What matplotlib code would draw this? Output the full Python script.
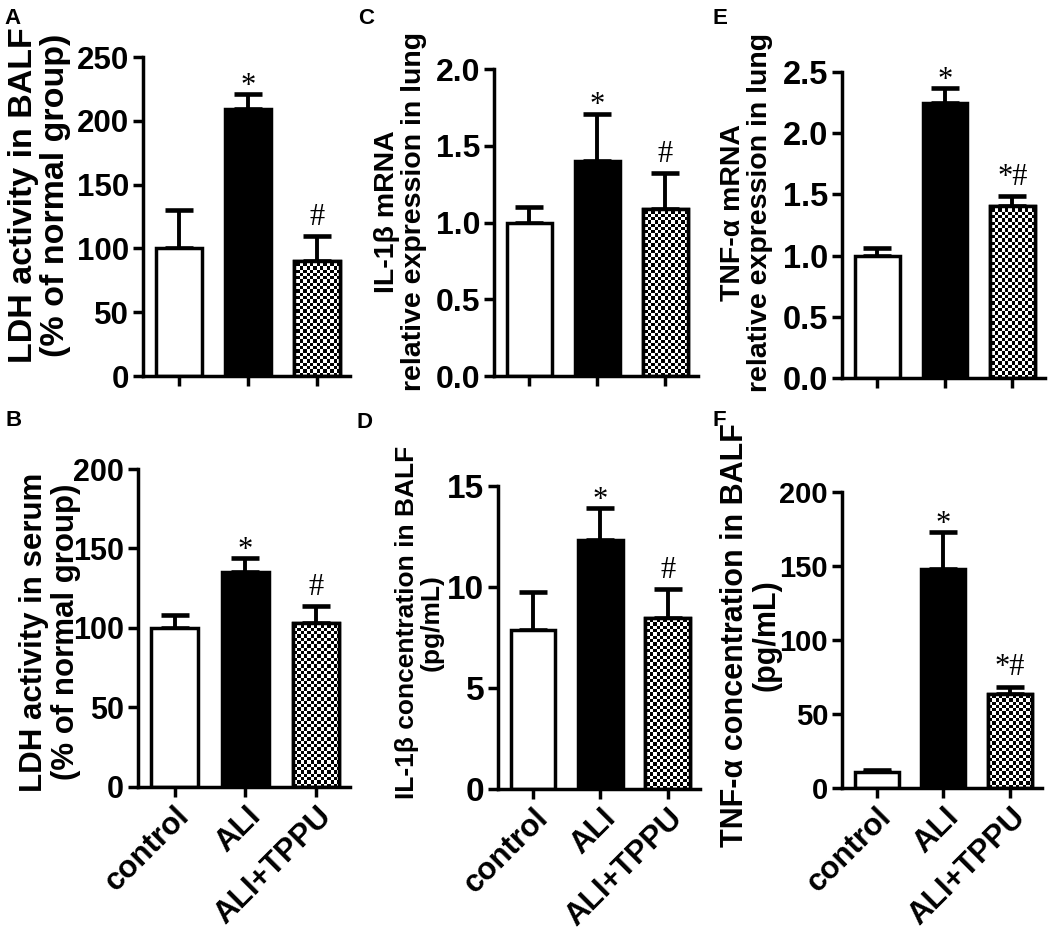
import numpy as np
import matplotlib
matplotlib.use("Agg")
import matplotlib.pyplot as plt

plt.rcParams['font.family'] = ['Liberation Sans', 'DejaVu Sans']
plt.rcParams['font.weight'] = 'bold'

groups = ["control", "ALI", "ALI+TPPU"]

# panel values (mean and upper error)
ldh_balf = [100, 209, 90]
ldh_balf_err = [30, 12, 20]
ldh_serum = [100, 135, 103]
ldh_serum_err = [8, 9, 11]
il1b_mrna = [1.0, 1.40, 1.09]
il1b_mrna_err = [0.10, 0.31, 0.23]
il1b_balf = [7.85, 12.35, 8.45]
il1b_balf_err = [1.9, 1.55, 1.45]
tnfa_mrna = [1.0, 2.245, 1.405]
tnfa_mrna_err = [0.06, 0.125, 0.08]
tnfa_balf = [10.5, 148, 63.5]
tnfa_balf_err = [2.0, 25, 5]

marks_ab = ["", "*", "#"]
marks_ef = ["", "*", "*#"]

panels = [
    # letter, values, errs, marks, ylim, ticks, fmt, ylabel, label size, tick size, rect, label xy, show xlabels
    ("A", ldh_balf, ldh_balf_err, marks_ab, 250, np.arange(0, 251, 50), "{:.0f}",
     "LDH activity in BALF\n(% of normal group)", 24.5, 22.5, [0.1362, 0.5991, 0.197, 0.3401], (-0.50, 0.567), False),
    ("B", ldh_serum, ldh_serum_err, marks_ab, 200, np.arange(0, 201, 50), "{:.0f}",
     "LDH activity in serum\n(% of normal group)", 22.5, 22, [0.1314, 0.1610, 0.2019, 0.3390], (-0.415, 0.487), True),
    ("C", il1b_mrna, il1b_mrna_err, marks_ab, 2.0, np.arange(0, 2.01, 0.5), "{:.1f}",
     "IL-1β mRNA\nrelative expression in lung", 20.5, 23, [0.4705, 0.5991, 0.1943, 0.3273], (-0.46, 0.535), False),
    ("D", il1b_balf, il1b_balf_err, marks_ab, 15, np.arange(0, 16, 5), "{:.0f}",
     "IL-1β concentration in BALF\n(pg/mL)", 19, 24, [0.4743, 0.1588, 0.1924, 0.3230], (-0.39, 0.55), True),
    ("E", tnfa_mrna, tnfa_mrna_err, marks_ef, 2.5, np.arange(0, 2.51, 0.5), "{:.1f}",
     "TNF-α mRNA\nrelative expression in lung", 20.5, 23.5, [0.8019, 0.5970, 0.1933, 0.3262], (-0.47, 0.54), False),
    ("F", tnfa_balf, tnfa_balf_err, marks_ef, 200, np.arange(0, 201, 50), "{:.0f}",
     "TNF-α concentration in BALF\n(pg/mL)", 22, 21, [0.8019, 0.1599, 0.1905, 0.3156], (-0.455, 0.515), True),
]

letter_pos = {"A": (0.004, 0.992), "B": (0.005, 0.563), "C": (0.341, 0.992),
              "D": (0.340, 0.561), "E": (0.679, 0.992), "F": (0.679, 0.563)}

fig = plt.figure(figsize=(10.5, 9.38), dpi=100)
x = np.arange(len(groups))
bw = 0.66
lw = 2.5

for letter, vals, errs, marks, ytop, ticks, fmt, ylab, lsize, tsize, rect, lxy, show_x in panels:
    ax = fig.add_axes(rect)
    ax.set_xlim(-0.52, 2.48)
    ax.set_ylim(0, ytop)

    ax.errorbar(x, vals, yerr=[np.zeros(3), errs], fmt='none', ecolor='black',
                elinewidth=lw + 0.3, capsize=10, capthick=lw + 0.8, zorder=1)
    bars = ax.bar(x, vals, width=bw, color=['white', 'black', 'white'],
                  edgecolor='black', linewidth=lw, zorder=2)

    # checkerboard fill for the ALI+TPPU bar
    wpx = rect[2] * fig.get_figwidth() * fig.dpi
    hpx = rect[3] * fig.get_figheight() * fig.dpi
    nc, nr = int(wpx / 3.3), int(hpx / 3.3)
    ii, jj = np.indices((nr, nc))
    checker = ((ii + jj) % 2).astype(float)
    im = ax.imshow(checker, cmap='gray', vmin=0, vmax=1, interpolation='nearest',
                   extent=[-0.52, 2.48, 0, ytop], aspect='auto', zorder=2.5)
    im.set_clip_path(bars[2])
    ax.bar(x[2], vals[2], width=bw, color='none', edgecolor='black', linewidth=lw, zorder=3)

    for xi, v, e, m in zip(x, vals, errs, marks):
        if m:
            dy = -5 if m == "*" else 3
            ax.annotate(m, (xi, v + e), xytext=(0, dy), textcoords='offset points',
                        ha='center', va='bottom', fontsize=22, fontweight='normal',
                        family='Liberation Serif')

    for s in ['top', 'right']:
        ax.spines[s].set_visible(False)
    for s in ['left', 'bottom']:
        ax.spines[s].set_linewidth(lw)
    ax.set_yticks(ticks)
    ax.set_yticklabels([fmt.format(t) for t in ticks])
    ax.set_xticks(x)
    ax.tick_params(axis='both', width=lw, length=7, labelsize=tsize, pad=3)
    if show_x:
        ax.set_xticklabels(groups, rotation=45, ha='right', rotation_mode='anchor', fontsize=22.5)
    else:
        ax.set_xticklabels([])

    ax.text(lxy[0], lxy[1], ylab, transform=ax.transAxes, rotation=90, ha='center',
            va='center', multialignment='center', fontsize=lsize, fontweight='bold',
            linespacing=1.05)

    fig.text(letter_pos[letter][0], letter_pos[letter][1], letter, ha='left', va='top',
             fontsize=16, fontweight='bold')

fig.savefig("out.png", dpi=100)
